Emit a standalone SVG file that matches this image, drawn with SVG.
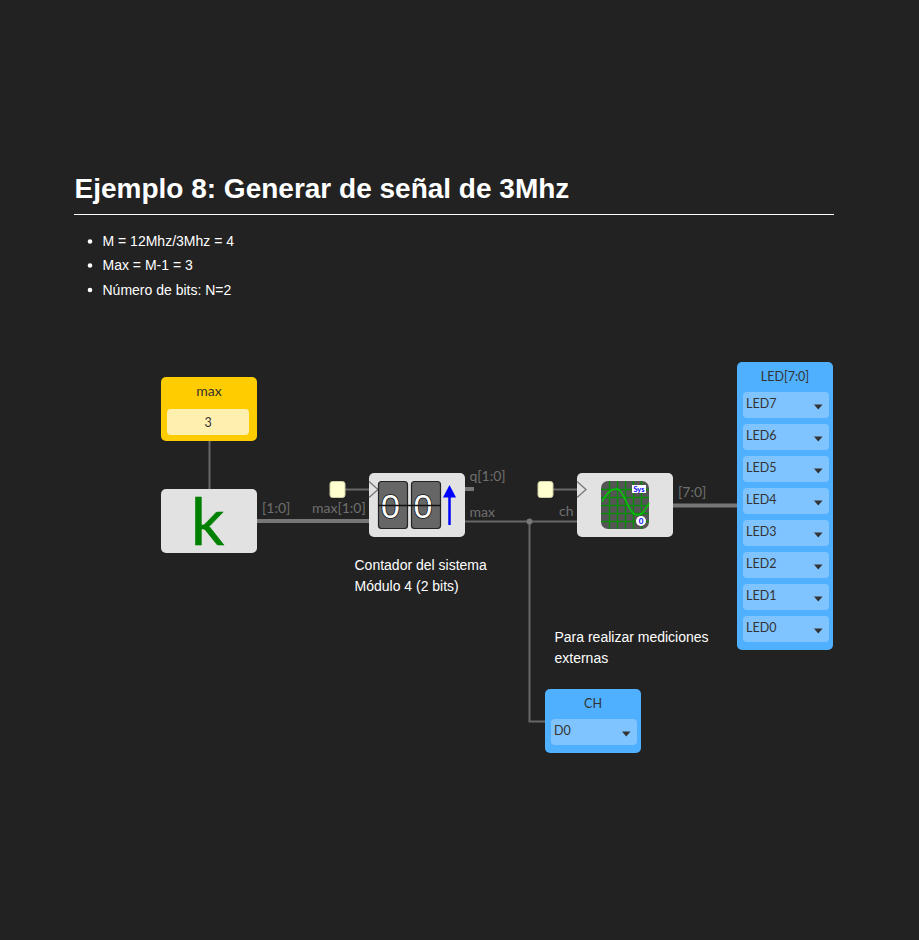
<svg xmlns="http://www.w3.org/2000/svg" width="919" height="940" viewBox="0 0 919 940">
<style>
.h{font:700 28px "Liberation Sans",Arial,sans-serif;fill:#fff}
.t{font:14px "Liberation Sans",Arial,sans-serif;fill:#fff}
.n{font:13px Lato,sans-serif;fill:#333;text-anchor:middle}
.i{font:12.500px Lato,sans-serif;fill:#333}
.w{font:14px Lato,sans-serif;fill:#6f6f6f}
.th{fill:none;stroke:#777;stroke-width:4}
.tn{fill:none;stroke:#666;stroke-width:2}
.blk{fill:#e2e2e2}
.led{fill:#4fb0ff}
.itm{fill:#80c4ff}
.car{fill:#333}
.clk{fill:#ffffd0;stroke:#cfcfa8;stroke-width:1}
.tri{fill:#e2e2e2;stroke:#777;stroke-width:1.300}
.card{fill:#666;stroke:#222;stroke-width:1.200}
.dig{font:400 34px "Liberation Sans",sans-serif;fill:#fff;stroke:#111;stroke-width:1.500;paint-order:stroke;text-anchor:middle}
.grid{stroke:#0a8a0a;stroke-width:1.500;fill:none}
</style>
<defs>
<path id="caret" class="car" d="M0 0h8.500l-4.250 5z"/>
</defs>
<rect width="919" height="940" fill="#222"/>
<text class="h" x="74.500" y="198">Ejemplo 8: Generar de señal de 3Mhz</text>
<rect x="74" y="214" width="760" height="1" fill="#fff"/>
<g id="lista">
<circle cx="90" cy="241.500" r="2.300" fill="#fff"/><text class="t" x="102.500" y="246">M = 12Mhz/3Mhz = 4</text>
<circle cx="90" cy="265.500" r="2.300" fill="#fff"/><text class="t" x="102.500" y="270">Max = M-1 = 3</text>
<circle cx="90" cy="290" r="2.300" fill="#fff"/><text class="t" x="102.500" y="295">Número de bits: N=2</text>
</g>
<g id="connectors">
<path class="tn" d="M209.500 441V489"/>
<path class="th" d="M257 521H369"/>
<path class="tn" d="M345 489.500H369"/>
<path class="th" d="M465 489H474"/>
<path class="tn" d="M465 521.500H577"/>
<path class="tn" d="M529.500 521.500V721.500H545"/>
<circle cx="529.500" cy="521.500" r="3" fill="#777"/>
<path class="tn" d="M553 489.500H577"/>
<path class="th" d="M673 505.500H737"/>
</g>
<g id="wire-labels">
<text class="w" x="262" y="513">[1:0]</text>
<text class="w" x="312" y="513">max[1:0]</text>
<text class="w" x="469.500" y="481">q[1:0]</text>
<text class="w" x="469.500" y="517">max</text>
<text class="w" x="559" y="516">ch</text>
<text class="w" x="678" y="497">[7:0]</text>
</g>
<g id="const-max">
<rect x="161" y="377" width="96" height="64" rx="5" fill="#ffcc00"/>
<rect x="167" y="409" width="82" height="26" rx="4" fill="#fff0b0"/>
<text class="n" x="209" y="396" style="font-size:14px">max</text>
<text class="n" x="208" y="427" style="font-size:12.500px">3</text>
</g>
<g id="const-k">
<rect class="blk" x="161" y="489" width="96" height="64" rx="5"/>
<text x="207.500" y="545" font-family="Lato,sans-serif" font-size="66" fill="#008000" stroke="#008000" stroke-width=".5" text-anchor="middle">k</text>
</g>
<g id="clk1"><rect class="clk" x="330" y="481.500" width="15" height="16" rx="2.500"/></g>
<g id="counter">
<rect class="blk" x="369" y="473" width="96" height="64" rx="5"/>
<path class="tri" d="M369 481.500L378 489.500L369 497.500"/>
<rect class="card" x="378.500" y="481.500" width="29" height="47" rx="3"/>
<rect class="card" x="411.500" y="481.500" width="29" height="47" rx="3"/>
<text class="dig" x="390.500" y="518">0</text>
<text class="dig" x="423" y="518">0</text>
<path d="M378 505.500H441" stroke="#111" stroke-width="1.500"/>
<path d="M449.500 525V497" stroke="#00f" stroke-width="2.500"/>
<path d="M443 497.500L449.500 485L456 497.500z" fill="#00f"/>
</g>
<g id="clk2"><rect class="clk" x="538" y="481.500" width="15" height="16" rx="2.500"/></g>
<g id="scope">
<rect class="blk" x="577" y="473" width="96" height="64" rx="5"/>
<path class="tri" d="M577 481.500L586 489.500L577 497.500"/>
<rect x="601" y="481" width="48" height="48" rx="7" fill="#555"/>
<path class="grid" d="M601 489.500H649M601 497.500H649M601 505.500H649M601 513.500H649M601 521.500H649M609.500 481V529M617.500 481V529M625.500 481V529M633.500 481V529M641.500 481V529"/>
<path d="M602 502C607 492 612 489 616 489C625 489 628 515 637 515C642 515 645 511 649 503" fill="none" stroke="#00c800" stroke-width="1.500"/>
<rect x="632" y="485" width="14" height="8" fill="#fff"/>
<text x="639" y="491.500" font-family="Lato,sans-serif" font-size="7.500" font-weight="700" fill="#00f" text-anchor="middle">Sys</text>
<circle cx="641" cy="521" r="5" fill="#fff"/>
<text x="641" y="524" font-family="Lato,sans-serif" font-size="8" font-weight="700" fill="#00f" text-anchor="middle">0</text>
</g>
<g id="led-block">
<rect class="led" x="737" y="362" width="96" height="288" rx="5"/>
<text class="n" x="785" y="381" style="font-size:12.500px">LED[7:0]</text>
<rect class="itm" x="743" y="392" width="86" height="26" rx="4"/><text class="i" x="746" y="408">LED7</text><use href="#caret" x="814" y="404.500"/>
<rect class="itm" x="743" y="424" width="86" height="26" rx="4"/><text class="i" x="746" y="440">LED6</text><use href="#caret" x="814" y="436.500"/>
<rect class="itm" x="743" y="456" width="86" height="26" rx="4"/><text class="i" x="746" y="472">LED5</text><use href="#caret" x="814" y="468.500"/>
<rect class="itm" x="743" y="488" width="86" height="26" rx="4"/><text class="i" x="746" y="504">LED4</text><use href="#caret" x="814" y="500.500"/>
<rect class="itm" x="743" y="520" width="86" height="26" rx="4"/><text class="i" x="746" y="536">LED3</text><use href="#caret" x="814" y="532.500"/>
<rect class="itm" x="743" y="552" width="86" height="26" rx="4"/><text class="i" x="746" y="568">LED2</text><use href="#caret" x="814" y="564.500"/>
<rect class="itm" x="743" y="584" width="86" height="26" rx="4"/><text class="i" x="746" y="600">LED1</text><use href="#caret" x="814" y="596.500"/>
<rect class="itm" x="743" y="616" width="86" height="26" rx="4"/><text class="i" x="746" y="632">LED0</text><use href="#caret" x="814" y="628.500"/>
</g>
<g id="ch-block">
<rect class="led" x="545" y="689" width="96" height="64" rx="5"/>
<text class="n" x="593" y="708" style="font-size:12.500px">CH</text>
<rect class="itm" x="551" y="719" width="86" height="26" rx="4"/>
<text class="i" x="554" y="735">D0</text>
<use href="#caret" x="622" y="731.500"/>
</g>
<g id="notes">
<text class="t" x="354.500" y="570">Contador del sistema</text>
<text class="t" x="354.500" y="591">Módulo 4 (2 bits)</text>
<text class="t" x="554.500" y="642">Para realizar mediciones</text>
<text class="t" x="554.500" y="663">externas</text>
</g>
</svg>
